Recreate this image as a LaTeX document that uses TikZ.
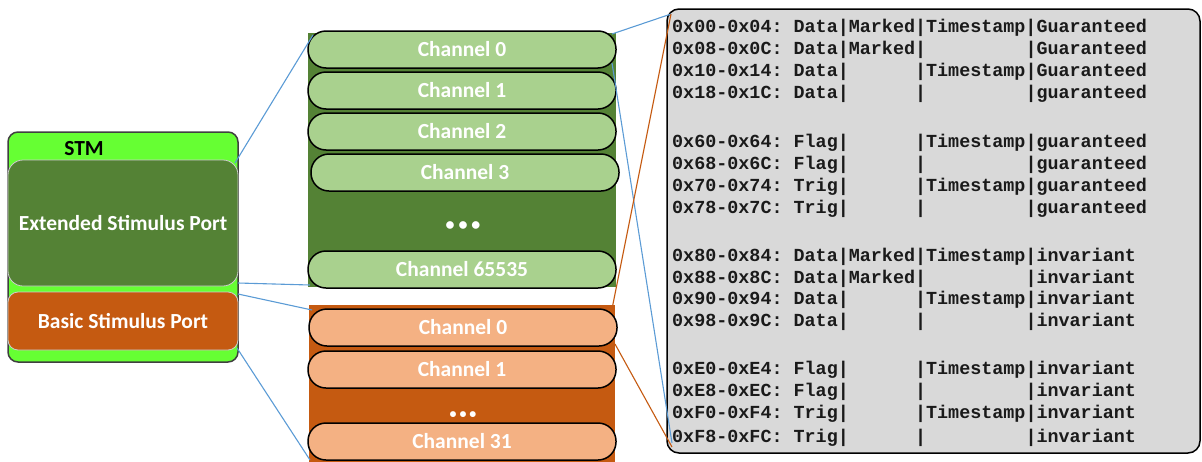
\documentclass[tikz,border=0pt]{standalone}
\usepackage{fontspec}
\setmainfont{Carlito}
\newfontfamily\regfont{Liberation Mono}
\usetikzlibrary{calc}
\definecolor{stmgreen}{HTML}{66FF33}
\definecolor{extgreen}{HTML}{548235}
\definecolor{chgreen}{HTML}{A9D18E}
\definecolor{basorange}{HTML}{C55A11}
\definecolor{chorange}{HTML}{F4B183}
\definecolor{linkblue}{HTML}{5B9BD5}
\definecolor{regfill}{HTML}{D9D9D9}
\definecolor{regtext}{HTML}{1A1A1A}
\frenchspacing

\begin{document}
\begin{tikzpicture}[x=1pt,y=-1pt,
  box/.style={anchor=north west, inner sep=0pt, outer sep=0pt},
  chtext/.style={font=\fontsize{21.5}{25}\selectfont\bfseries, text=white},
  pill/.style={box, chtext, rounded corners=18pt, draw=black, line width=1.5pt,
    minimum width=308pt, minimum height=37pt},
  gpill/.style={pill, fill=chgreen},
  opill/.style={pill, fill=chorange},
  dotrow/.style={text=white, inner sep=0pt},
  link/.style={draw=linkblue, line width=1.1pt},
  olink/.style={draw=basorange, line width=1.1pt},
  reg/.style={anchor=base west, inner sep=0pt,
    font=\fontsize{18.4}{22}\regfont\bfseries, text=regtext}
]
\useasboundingbox (0,0) rectangle (1202,461);
\clip (0,0) rectangle (1202,461);

% STM block with its two ports
\node[box, fill=stmgreen, draw=black!75, line width=1.5pt, rounded corners=10pt,
  minimum width=230pt, minimum height=230pt] (stm) at (8,132) {};
\node[font=\fontsize{21.5}{25}\selectfont\bfseries] (stmtitle) at (84,149) {STM};
\node[box, chtext, fill=extgreen, draw=black!20, line width=0.8pt, rounded corners=15pt,
  minimum width=230pt, minimum height=126pt] (ext) at (8,160) {Extended Stimulus Port};
\node[box, chtext, fill=basorange, draw=black!20, line width=0.8pt, rounded corners=10pt,
  minimum width=230pt, minimum height=58pt] (basic) at (8,292) {Basic Stimulus Port};

% Extended stimulus port channels
\node[box, fill=extgreen, minimum width=308pt, minimum height=254pt] (gbg) at (308,33) {};
\node[gpill] (g0) at (308,31) {Channel 0};
\node[gpill] (g1) at (308,72) {Channel 1};
\node[gpill] (g2) at (308,113) {Channel 2};
\node[gpill] (g3) at (311,154) {Channel 3};
\node[dotrow, font=\fontsize{18}{18}\selectfont\bfseries] (gdots) at (463,226)
  {•\kern4pt•\kern4pt•};
\node[gpill] (glast) at (308,251) {Channel 65535};

% Basic stimulus port channels
\node[box, fill=basorange, minimum width=306pt, minimum height=160pt] (obg) at (309,305) {};
\node[opill] (o0) at (309,309) {Channel 0};
\node[opill] (o1) at (308,351) {Channel 1};
\node[dotrow, font=\fontsize{14}{14}\selectfont\bfseries] (odots) at (463,415)
  {•\kern3pt•\kern3pt•};
\node[opill] (o31) at (308,423) {Channel 31};

% Address map
\node[box, fill=regfill, draw=black, line width=1.5pt, rounded corners=12pt,
  minimum width=533pt, minimum height=444pt] (regs) at (667,9) {};
\node[reg] (r1)  at (672,32)  {0x00-0x04: Data|Marked|Timestamp|Guaranteed};
\node[reg] (r2)  at (672,54)  {0x08-0x0C: Data|Marked|~~~~~~~~~|Guaranteed};
\node[reg] (r3)  at (672,76)  {0x10-0x14: Data|~~~~~~|Timestamp|Guaranteed};
\node[reg] (r4)  at (672,98)  {0x18-0x1C: Data|~~~~~~|~~~~~~~~~|guaranteed};
\node[reg] (r5)  at (672,147) {0x60-0x64: Flag|~~~~~~|Timestamp|guaranteed};
\node[reg] (r6)  at (672,169) {0x68-0x6C: Flag|~~~~~~|~~~~~~~~~|guaranteed};
\node[reg] (r7)  at (672,191) {0x70-0x74: Trig|~~~~~~|Timestamp|guaranteed};
\node[reg] (r8)  at (672,213) {0x78-0x7C: Trig|~~~~~~|~~~~~~~~~|guaranteed};
\node[reg] (r9)  at (672,261) {0x80-0x84: Data|Marked|Timestamp|invariant};
\node[reg] (r10) at (672,283) {0x88-0x8C: Data|Marked|~~~~~~~~~|invariant};
\node[reg] (r11) at (672,304) {0x90-0x94: Data|~~~~~~|Timestamp|invariant};
\node[reg] (r12) at (672,326) {0x98-0x9C: Data|~~~~~~|~~~~~~~~~|invariant};
\node[reg] (r13) at (672,374) {0xE0-0xE4: Flag|~~~~~~|Timestamp|invariant};
\node[reg] (r14) at (672,396) {0xE8-0xEC: Flag|~~~~~~|~~~~~~~~~|invariant};
\node[reg] (r15) at (672,418) {0xF0-0xF4: Trig|~~~~~~|Timestamp|invariant};
\node[reg] (r16) at (672,442) {0xF8-0xFC: Trig|~~~~~~|~~~~~~~~~|invariant};

% Connectors
\draw[link] ($(ext.north east)+(-3,3)$) -- ($(g0.north west)+(5,4)$);
\draw[link] ($(ext.south east)+(0,-3)$) -- ($(glast.south west)+(2,-3)$);
\draw[link] ($(basic.north east)+(0,2)$) -- ($(o0.north west)+(3,1)$);
\draw[link] ($(basic.south east)+(-1,-2)$) -- ($(o31.south west)+(2,0)$);
\draw[link] ($(g0.north east)+(-4,3)$) -- ($(regs.north west)+(4,5)$);
\draw[link] ($(g0.south east)+(-4,-5)$) -- ($(regs.south west)+(5,-10)$);
\draw[olink] ($(o0.north east)+(-5,0)$) -- ($(regs.north west)+(4,5)$);
\draw[olink] ($(o0.south east)+(-2,-2)$) -- ($(regs.south west)+(5,-6)$);
\end{tikzpicture}
\end{document}
